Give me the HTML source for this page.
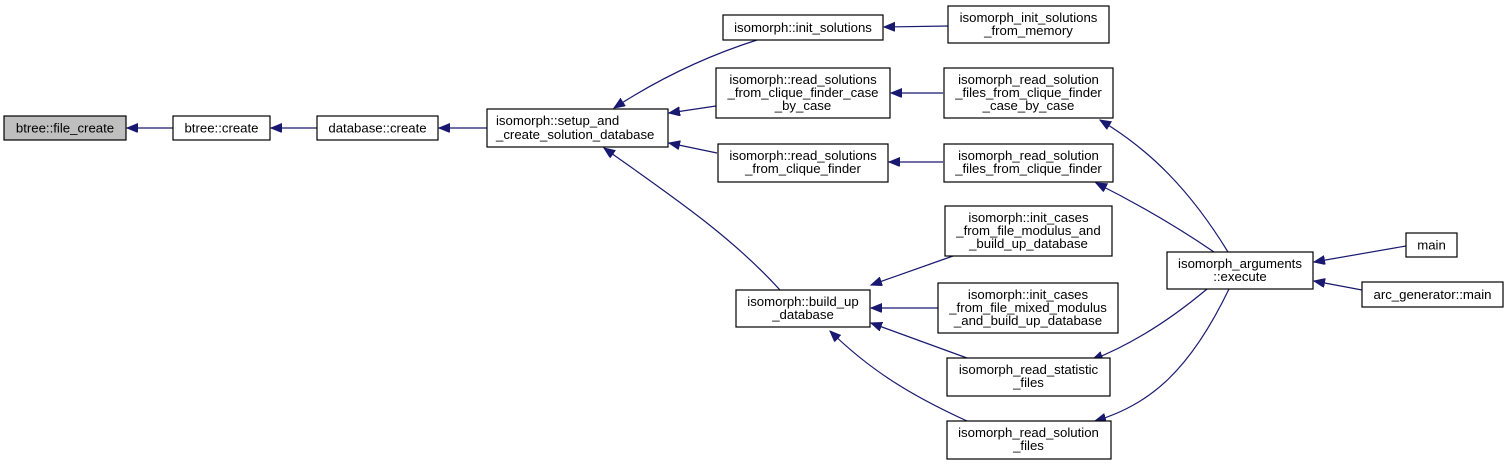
<!DOCTYPE html>
<html><head><meta charset="utf-8"><style>
html,body{margin:0;padding:0;background:#fff;}
svg{display:block;}
text{font-family:"Liberation Sans",Helvetica,Arial,sans-serif;font-size:13.2px;fill:#000;}
rect{fill:#fff;stroke:#000;stroke-width:1.2;}
.e{fill:none;stroke:#191970;stroke-width:1.2;}
</style></head><body>
<svg width="1508" height="465" viewBox="0 0 1508 465" xmlns="http://www.w3.org/2000/svg">
<defs>
<marker id="a" markerUnits="userSpaceOnUse" markerWidth="12" markerHeight="10" refX="11" refY="4.5" orient="auto">
<path d="M0,0 L11,4.5 L0,9 Z" fill="#191970" stroke="#191970"/>
</marker>
</defs>
<path class="e" marker-end="url(#a)" d="M173,128 L127,128"/>
<path class="e" marker-end="url(#a)" d="M317,128 L271,128"/>
<path class="e" marker-end="url(#a)" d="M487,128 L439,128"/>
<path class="e" marker-end="url(#a)" d="M757,40 C710,55 660,78 614,108"/>
<path class="e" marker-end="url(#a)" d="M716,106 L669,113"/>
<path class="e" marker-end="url(#a)" d="M717,153 L669,143"/>
<path class="e" marker-end="url(#a)" d="M780,290 C730,235 670,195 604,148"/>
<path class="e" marker-end="url(#a)" d="M948,26 L884,27"/>
<path class="e" marker-end="url(#a)" d="M943,93 L891,93"/>
<path class="e" marker-end="url(#a)" d="M943,162 L889,162"/>
<path class="e" marker-end="url(#a)" d="M953,256 L871,285"/>
<path class="e" marker-end="url(#a)" d="M938,308 L871,308"/>
<path class="e" marker-end="url(#a)" d="M967,358 L871,323"/>
<path class="e" marker-end="url(#a)" d="M967,421 C910,395 870,370 830,331"/>
<path class="e" marker-end="url(#a)" d="M1228,252 C1190,190 1150,150 1100,120"/>
<path class="e" marker-end="url(#a)" d="M1214,252 C1170,222 1130,200 1096,183"/>
<path class="e" marker-end="url(#a)" d="M1207,289 C1170,320 1130,345 1092,360"/>
<path class="e" marker-end="url(#a)" d="M1229,289 C1190,370 1150,405 1095,421"/>
<path class="e" marker-end="url(#a)" d="M1406,246 L1314,262"/>
<path class="e" marker-end="url(#a)" d="M1362,290 L1314,281"/>
<rect x="4" y="116" width="122" height="24" style="fill:#bfbfbf"/>
<text x="65" y="132.5" text-anchor="middle">btree::file_create</text>
<rect x="173" y="116" width="97" height="24"/>
<text x="221.5" y="132.5" text-anchor="middle">btree::create</text>
<rect x="317" y="116" width="121" height="24"/>
<text x="377.5" y="132.5" text-anchor="middle">database::create</text>
<rect x="487" y="109" width="181" height="38"/>
<text x="496" y="125">isomorph::setup_and</text>
<text x="496" y="139">_create_solution_database</text>
<rect x="723" y="15" width="160" height="25"/>
<text x="803" y="32" text-anchor="middle">isomorph::init_solutions</text>
<rect x="716" y="68" width="174" height="50"/>
<text x="803" y="84" text-anchor="middle">isomorph::read_solutions</text>
<text x="803" y="97" text-anchor="middle">_from_clique_finder_case</text>
<text x="803" y="110" text-anchor="middle">_by_case</text>
<rect x="718" y="144" width="170" height="38"/>
<text x="803" y="160" text-anchor="middle">isomorph::read_solutions</text>
<text x="803" y="173" text-anchor="middle">_from_clique_finder</text>
<rect x="736" y="290" width="134" height="37"/>
<text x="803" y="306" text-anchor="middle">isomorph::build_up</text>
<text x="803" y="319" text-anchor="middle">_database</text>
<rect x="948" y="6" width="161" height="37"/>
<text x="1028.5" y="22" text-anchor="middle">isomorph_init_solutions</text>
<text x="1028.5" y="35" text-anchor="middle">_from_memory</text>
<rect x="944" y="68" width="169" height="50"/>
<text x="1028.5" y="84" text-anchor="middle">isomorph_read_solution</text>
<text x="1028.5" y="97" text-anchor="middle">_files_from_clique_finder</text>
<text x="1028.5" y="110" text-anchor="middle">_case_by_case</text>
<rect x="944" y="144" width="169" height="38"/>
<text x="1028.5" y="160" text-anchor="middle">isomorph_read_solution</text>
<text x="1028.5" y="173" text-anchor="middle">_files_from_clique_finder</text>
<rect x="945" y="206" width="167" height="50"/>
<text x="1028.5" y="222" text-anchor="middle">isomorph::init_cases</text>
<text x="1028.5" y="235" text-anchor="middle">_from_file_modulus_and</text>
<text x="1028.5" y="248" text-anchor="middle">_build_up_database</text>
<rect x="938" y="283" width="180" height="50"/>
<text x="1028" y="299" text-anchor="middle">isomorph::init_cases</text>
<text x="1028" y="312" text-anchor="middle">_from_file_mixed_modulus</text>
<text x="1028" y="325" text-anchor="middle">_and_build_up_database</text>
<rect x="947" y="358" width="163" height="38"/>
<text x="1028.5" y="374" text-anchor="middle">isomorph_read_statistic</text>
<text x="1028.5" y="387" text-anchor="middle">_files</text>
<rect x="947" y="421" width="164" height="38"/>
<text x="1028.5" y="437" text-anchor="middle">isomorph_read_solution</text>
<text x="1028.5" y="450" text-anchor="middle">_files</text>
<rect x="1167" y="252" width="146" height="37"/>
<text x="1240" y="268" text-anchor="middle">isomorph_arguments</text>
<text x="1240" y="281" text-anchor="middle">::execute</text>
<rect x="1406" y="233" width="51" height="24"/>
<text x="1431.5" y="249.5" text-anchor="middle">main</text>
<rect x="1362" y="282" width="141" height="25"/>
<text x="1432.5" y="299" text-anchor="middle">arc_generator::main</text>
</svg>
</body></html>
